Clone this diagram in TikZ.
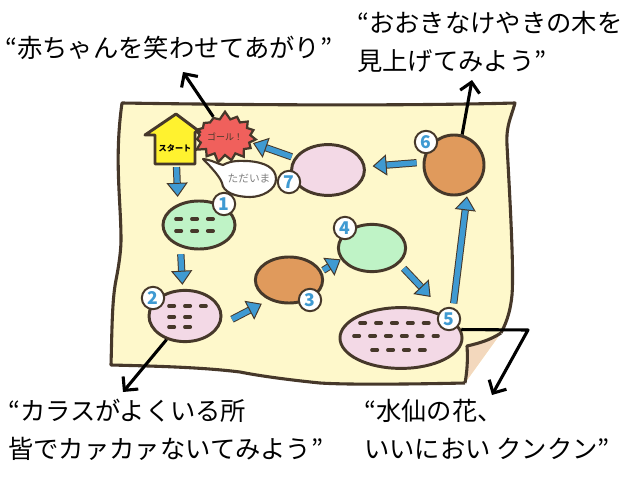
\documentclass[tikz,border=0pt]{standalone}
\usepackage{fontspec}
\setmainfont{Noto Sans CJK JP}
\usetikzlibrary{arrows.meta,positioning,shapes.geometric,shapes.symbols}
\definecolor{inkbrown}{HTML}{46382A}
\definecolor{paperyellow}{HTML}{FEF8CB}
\definecolor{foldtan}{HTML}{F3D8BD}
\definecolor{spotgreen}{HTML}{BFF3C6}
\definecolor{spotpink}{HTML}{F3D9E6}
\definecolor{spotorange}{HTML}{E09A5C}
\definecolor{houseyellow}{HTML}{FFF22F}
\definecolor{burstred}{HTML}{F0605C}
\definecolor{routeblue}{HTML}{3F9AD2}
\tikzset{
  spot/.style={ellipse, draw=inkbrown, line width=2.1pt, inner sep=0pt},
  badge/.style={circle, draw=inkbrown, fill=white, line width=1.4pt, inner sep=0pt, minimum size=0.56cm,
    text=routeblue, font=\fontsize{12.5}{13}\selectfont\bfseries},
  routearrow/.style={draw=inkbrown, line width=0.7pt, double=routeblue, double distance=3.8pt,
    -{Triangle[length=10pt,width=15pt,fill=routeblue]}},
  callout/.style={black, line width=2.2pt, line join=round, -{Straight Barb[length=7pt,width=14pt]}},
  saying/.style={align=left, inner sep=0pt, anchor=north west, font=\fontsize{18}{27}\selectfont},
  dashbar/.style={inkbrown, line width=2.6pt, line cap=round, dash pattern=on 3.8pt off 7.5pt},
}
\begin{document}
\begin{tikzpicture}[x=0.025cm, y=-0.025cm]
  \useasboundingbox (0,0) rectangle (640,480);
  % paper
  \draw[inkbrown, line width=2.2pt, fill=paperyellow, line join=round]
    (465,383) .. controls (420,384) and (350,385) .. (320,383)
    .. controls (290,380) and (260,376) .. (240,372)
    .. controls (200,367) and (150,366) .. (111,365)
    .. controls (112,330) and (112,300) .. (116,280)
    .. controls (119,265) and (121,250) .. (121,240)
    .. controls (121,200) and (114,160) .. (122,103)
    .. controls (250,105) and (400,106) .. (515,103)
    .. controls (511,118) and (506,125) .. (507,145)
    .. controls (510,200) and (514,270) .. (512,295)
    .. controls (510,315) and (505,325) .. (501,333);
  \fill[foldtan] (501,333) .. controls (490,340) and (480,343) .. (467,346)
    .. controls (468,360) and (467,372) .. (465,383) -- cycle;
  \draw[inkbrown, line width=2.2pt, line join=round]
    (501,333) .. controls (490,340) and (480,343) .. (467,346)
    .. controls (468,360) and (467,372) .. (465,383);
  % places on the route
  \node[spot, fill=spotgreen, minimum width=1.8cm, minimum height=1.2cm] (one) at (199,225) {};
  \node[spot, fill=spotpink, minimum width=1.8cm, minimum height=1.28cm] (two) at (185,316) {};
  \node[spot, fill=spotorange, minimum width=1.68cm, minimum height=1.15cm] (three) at (289,280) {};
  \node[spot, fill=spotgreen, minimum width=1.68cm, minimum height=1.18cm] (four) at (372,248) {};
  \node[spot, fill=spotpink, minimum width=3.05cm, minimum height=1.52cm] (five) at (401,338) {};
  \node[spot, fill=spotorange, minimum width=1.5cm, minimum height=1.5cm] (six) at (454,165) {};
  \node[spot, fill=spotpink, minimum width=1.82cm, minimum height=1.27cm] (seven) at (328,170) {};
  \draw[dashbar] (176,219) -- (217,219);
  \draw[dashbar] (176,231) -- (217,231);
  \draw[dashbar] (169,306) -- (206,306);
  \draw[dashbar] (169,317) -- (193,317);
  \draw[dashbar] (169,327) -- (193,327);
  \draw[dashbar] (360,323) -- (433,323);
  \draw[dashbar] (354,336) -- (438,336);
  \draw[dashbar] (372,350) -- (428,350);
  % goal, start, bubble
  \node[starburst, starburst points=15, starburst point height=0.2cm, random starburst=7, draw=inkbrown,
    fill=burstred, line width=1.6pt, inner sep=0pt, minimum width=1.15cm, minimum height=1.3cm,
    text=inkbrown, font=\fontsize{6.4}{7}\selectfont] (goal) at (225,137) {ゴール！};
  \draw[inkbrown, line width=2.1pt, fill=houseyellow, line join=round]
    (176,114) -- (200,132) -- (195,132) -- (195,164) -- (155,164) -- (155,135) -- (145,135) -- cycle;
  \node[inner sep=0pt, minimum width=1cm, minimum height=0.8cm, font=\fontsize{5.8}{6}\selectfont\bfseries] (start) at (175,148) {スタート};
  \draw[inkbrown, line width=1.5pt, fill=white, line join=round]
    (203,159) .. controls (212,160) and (218,164) .. (223,165)
    .. controls (232,160) and (240,161) .. (247,161)
    .. controls (265,162) and (276,168) .. (276,179)
    .. controls (276,190) and (262,197) .. (250,197)
    .. controls (235,197) and (223,192) .. (222,183)
    .. controls (220,177) and (212,168) .. (203,159) -- cycle;
  \node[text=gray, inner sep=0pt, font=\fontsize{7.6}{8}\selectfont] (bubble) at (249,179) {ただいま};
  % numbers
  \node[badge] (badge1) at (224,204) {1};
  \node[badge] (badge2) at (153,298) {2};
  \node[badge] (badge3) at (310,300) {3};
  \node[badge] (badge4) at (345,228) {4};
  \node[badge] (badge5) at (449,319) {5};
  \node[badge] (badge6) at (426,142) {6};
  \node[badge] (badge7) at (289,182) {7};
  % route
  \draw[routearrow, shorten <=2pt, shorten >=5pt] (start.-85) -- (one.135);
  \draw[routearrow, shorten <=5pt, shorten >=3pt] (one.-130) -- (two.95);
  \draw[routearrow, shorten <=9.5pt, shorten >=5.7pt] (two.-15) -- (three.-135);
  \draw[routearrow, shorten <=1.2pt] (three.15) -- (four.-160);
  \draw[routearrow, shorten <=4.5pt, shorten >=22pt] (four.-30) -- (five.20);
  \draw[routearrow, shorten <=3pt, shorten >=2pt] (badge5.70) -- (six.-65);
  \draw[routearrow, shorten <=4.3pt, shorten >=5pt] (six.175) -- (seven.5);
  \draw[routearrow, shorten <=2pt, shorten >=1pt] (seven.160) -- (goal.-12);
  % sayings
  \node[saying] (sayA) at (5,36) {“赤ちゃんを笑わせてあがり”};
  \node[saying] (sayB) at (357,11) {“おおきなけやきの木を\\見上げてみよう”};
  \node[saying] (sayC) at (8,399) {“カラスがよくいる所\\皆でカァカァないてみよう”};
  \node[saying] (sayD) at (364,399) {“水仙の花、\\いいにおい クンクン”};
  \coordinate (tipA) at (183,72);
  \coordinate (tipB) at (472,80);
  \coordinate (tipC) at (123,392);
  \coordinate (tipD) at (492,395);
  \coordinate (bendD) at (528,330);
  \draw[callout] (goal.120) -- (tipA);
  \draw[callout] (six.75) -- (tipB);
  \draw[callout] (two.-128) -- (tipC);
  \draw[callout] (five.8) -- (bendD) -- (tipD);
\end{tikzpicture}
\end{document}
